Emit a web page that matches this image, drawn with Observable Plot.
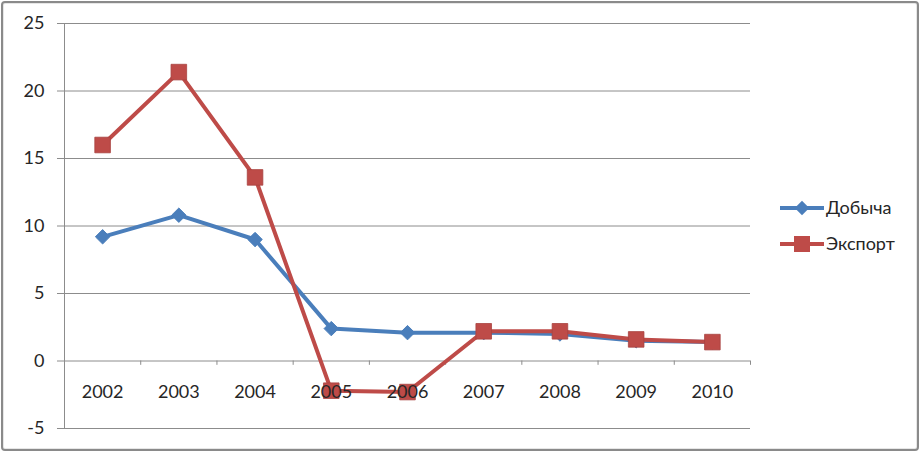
<!DOCTYPE html>
<html><head><meta charset="utf-8">
<script src="https://cdn.jsdelivr.net/npm/d3@7"></script>
<script src="https://cdn.jsdelivr.net/npm/@observablehq/plot@0.6"></script>
<style>
body{margin:0;background:#fff;}
#wrap{position:relative;width:920px;height:453px;overflow:hidden;}
#border{position:absolute;left:1px;top:1px;right:1px;bottom:2px;border:2px solid #8a8a8a;border-radius:4px;box-shadow:inset 0 0 0 1px #e6e6e6;pointer-events:none;}
</style></head>
<body><div id="wrap"><div id="border"></div></div>
<script>
const years = [2002, 2003, 2004, 2005, 2006, 2007, 2008, 2009, 2010];
const dobycha = [9.2, 10.8, 9.0, 2.4, 2.1, 2.1, 2.0, 1.5, 1.4];
const eksport = [16.0, 21.4, 13.6, -2.2, -2.3, 2.2, 2.2, 1.6, 1.4];
const yTicks = [-5, 0, 5, 10, 15, 20, 25];
const seriesNames = ["Добыча", "Экспорт"];
const colors = ["#4a7ebb", "#be4b48"];

const rows = [];
years.forEach((y, i) => {
  rows.push({year: y, value: dobycha[i], s: seriesNames[0]});
  rows.push({year: y, value: eksport[i], s: seriesNames[1]});
});
const bounds = [...years.map(y => y - 0.5), years[years.length-1] + 0.5];
const font = "Lato, 'Open Sans', sans-serif";

const chart = Plot.plot({
  width: 920, height: 453,
  marginLeft: 64, marginRight: 170, marginTop: 23, marginBottom: 25,
  style: {fontFamily: font, fontSize: "18px", color: "#262626", background: "transparent"},
  x: {domain: [years[0] - 0.5, years[years.length-1] + 0.5], axis: null},
  y: {domain: [-5, 25], axis: null},
  color: {domain: seriesNames, range: colors},
  marks: [
    Plot.ruleY(yTicks, {x1: years[0] - 0.5 - 0.092, x2: years[years.length-1] + 0.5, stroke: "#8c8c8c", strokeWidth: 1}),
    Plot.ruleX([years[0] - 0.5], {y1: -5, y2: 25, stroke: "#8c8c8c", strokeWidth: 1}),
    Plot.ruleX(bounds.slice(1), {y1: 0, y2: -0.32, stroke: "#8c8c8c", strokeWidth: 1}),
    Plot.text(yTicks, {x: years[0] - 0.5, y: d => d, text: d => String(d), textAnchor: "end", dx: -20, fill: "#262626", fontSize: 18}),
    Plot.line(rows, {x: "year", y: "value", z: "s", stroke: "s", strokeWidth: 4, strokeLinejoin: "round"}),
    Plot.dot(rows.filter(d => d.s === seriesNames[0]), {x: "year", y: "value", symbol: "diamond2", r: 6.5, fill: colors[0], stroke: colors[0], strokeWidth: 1}),
    Plot.dot(rows.filter(d => d.s === seriesNames[1]), {x: "year", y: "value", symbol: "square", r: 8.8, fill: colors[1], stroke: "#a84340", strokeWidth: 0.8}),
    Plot.text(years, {x: d => d, y: 0, text: d => String(d), dy: 31, fill: "#262626", fontSize: 18})
  ]
});
document.getElementById("wrap").prepend(chart);

// legend
const svg = d3.select(chart);
const leg = svg.append("g").attr("font-family", font).attr("font-size", 18).attr("fill", "#262626").attr("text-anchor", "start");
[[seriesNames[0], 208, "diamond"], [seriesNames[1], 244, "square"]].forEach(([name, y, sym], i) => {
  leg.append("line").attr("x1", 780).attr("x2", 824).attr("y1", y).attr("y2", y)
    .attr("stroke", colors[i]).attr("stroke-width", 4);
  if (sym === "diamond") {
    leg.append("path").attr("d", d3.symbol(d3.symbolDiamond2, Math.PI * 6.5 * 6.5)()).attr("transform", `translate(802,${y})`).attr("fill", colors[i]);
  } else {
    leg.append("rect").attr("x", 794).attr("y", y - 8).attr("width", 16).attr("height", 16).attr("fill", colors[i]);
  }
  leg.append("text").attr("x", 826).attr("y", y).attr("dy", "0.35em").attr("text-anchor", "start").text(name);
});
</script>
</body></html>
